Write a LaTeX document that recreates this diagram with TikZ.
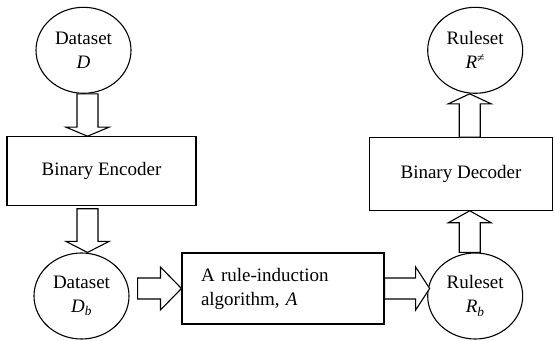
\documentclass[tikz,border=0pt]{standalone}
\usepackage{fontspec}
\setmainfont{Liberation Serif}
\usetikzlibrary{shapes.geometric,calc}

\newcommand{\blockarrow}[3]{%
	\coordinate (ba-h) at ($(#2)!#3!(#1)$);
	\draw[block line] ($(#1)!10.5pt!90:(#2)$) -- ($(ba-h)!10.5pt!-90:(#1)$)
		-- ($(ba-h)!21.5pt!-90:(#1)$) -- (#2) -- ($(ba-h)!21.5pt!90:(#1)$)
		-- ($(ba-h)!10.5pt!90:(#1)$) -- ($(#1)!10.5pt!-90:(#2)$) -- cycle;
}

\begin{document}
\begin{tikzpicture}[x=1pt,y=1pt,font=\fontsize{19}{24}\selectfont]
			\tikzstyle{every node}=[line width=1.1pt,inner sep=0pt]
			\tikzstyle{data}=[draw,ellipse,minimum width=95pt,minimum height=86pt,align=center]
			\tikzstyle{unit}=[draw,rectangle,align=center]
			\tikzstyle{block line}=[line width=1.1pt,fill=white,line join=miter]
			\useasboundingbox (0,0) rectangle (554,340);
			\node[data] (D) at (83.5,289.7) {Dataset\\\textit{D}};
			\node[unit,minimum width=189pt,minimum height=68.5pt] (enc) at (101.5,169) {Binary Encoder};
			\node[data] (Db) at (81.5,44) {Dataset\\\textit{D}\textsubscript{\textit{b}}};
			\node[unit,minimum width=202pt,minimum height=71pt,text width=164pt,inner xsep=19pt,align=left] (algo) at (283,51.5)
				{A rule-induction\\algorithm, \textit{A}};
			\node[data] (Rb) at (475.2,44) {Ruleset\\\textit{R}\textsubscript{\textit{b}}};
			\node[unit,minimum width=183pt,minimum height=72.5pt] (dec) at (461,166) {Binary Decoder};
			\node[data] (Rs) at (475.2,289.7) {Ruleset\\\textit{R}\textsuperscript{≠}};
			\coordinate (a1) at ($(D.south)+(4,0)$);
			\blockarrow{a1}{a1 |- enc.north}{9pt}
			\coordinate (a2) at ($(a1 |- enc.south)+(0,-3)$);
			\blockarrow{a2}{a2 |- Db.north}{11pt}
			\coordinate (a3) at ($(Db.east |- algo.west)+(8,0)$);
			\blockarrow{a3}{algo.west}{21pt}
			\coordinate (a4) at ($(Rb.west |- algo.east)+(2.5,0)$);
			\blockarrow{algo.east}{a4}{14pt}
			\coordinate (a5) at ($(Rb.north)+(-5.5,0)$);
			\blockarrow{a5}{a5 |- dec.south}{12pt}
			\coordinate (a6) at (a5 |- dec.north);
			\blockarrow{a6}{a6 |- Rs.south}{10pt}
\end{tikzpicture}
\end{document}
